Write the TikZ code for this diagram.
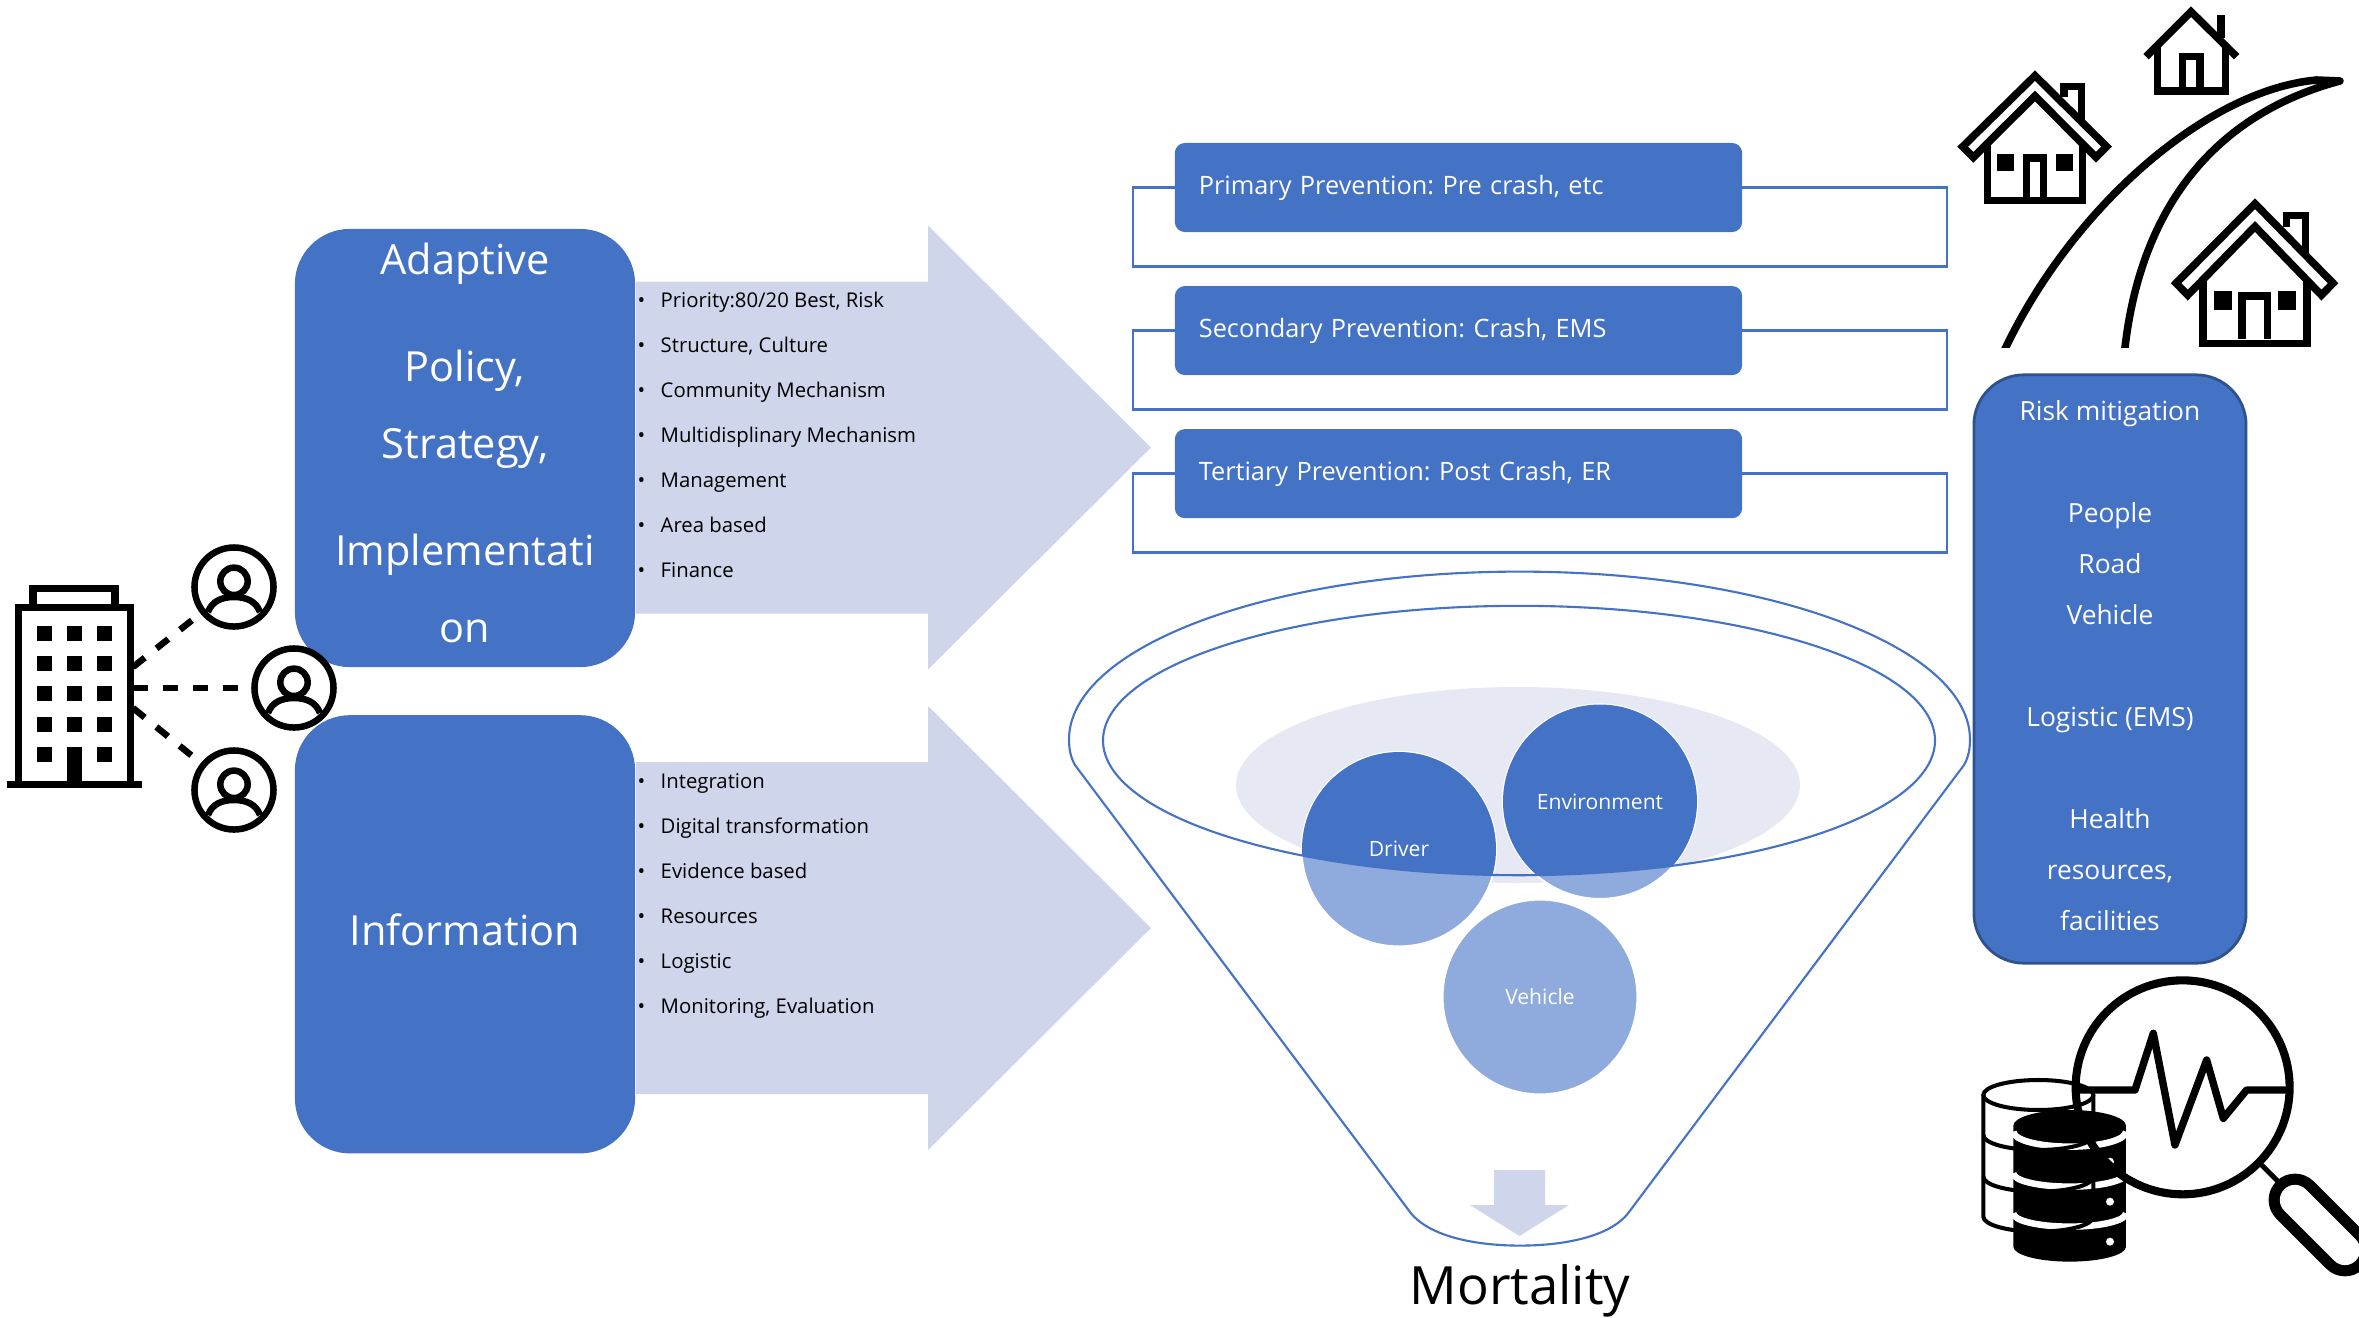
\documentclass[tikz,border=0pt]{standalone}
\usepackage{fontspec}
\setmainfont{Open Sans}
\frenchspacing
\usetikzlibrary{positioning}
\definecolor{mblue}{HTML}{4472C4}
\definecolor{mdark}{HTML}{2F528F}
\definecolor{mmid}{HTML}{8FAADC}
\definecolor{mpale}{HTML}{CFD5EA}
\definecolor{mfaint}{HTML}{E6E9F4}
\tikzset{
  sidebox/.style={fill=mblue,rounded corners=0.55cm,minimum width=3.4cm,minimum height=4.38cm,
    inner sep=0pt,outer sep=0pt},
  sidetext/.style={inner sep=0pt,align=center,text=white},
  prevbox/.style={fill=mblue,rounded corners=0.1cm,minimum height=0.89cm,text width=5.19cm,
    inner xsep=0.24cm,inner ysep=0pt,outer sep=0pt,align=left,text=white,
    font=\fontsize{7.2}{9}\selectfont},
  prevline/.style={draw=mblue,line width=0.7pt},
  listbox/.style={inner sep=0pt,align=left,font=\fontsize{5.78}{12.8}\selectfont},
  blob/.style={circle,minimum size=1.945cm,inner sep=0pt,fill=mmid,draw=white,line width=0.5pt},
  bloblabel/.style={inner sep=0pt,text=white,font=\fontsize{6}{8}\selectfont},
  funnelline/.style={draw=mblue,line width=0.6pt},
  usercircle/.style={circle,draw=black,fill=white,line width=1.85pt,minimum size=0.79cm,inner sep=0pt},
  dashlink/.style={line width=1.85pt,dash pattern=on 4.27pt off 4.27pt},
  icon/.style={line width=2.15pt,draw=black},
}
\newcommand{\Bullet}[1]{\makebox[0.23cm][l]{•}#1}
\newcommand{\WideArrow}[1]{
  \begin{scope}[shift={(0,#1)}]
  \fill[mpale] (636,-166) -- (928,-166) -- (928,-222) -- (1151,0) -- (928,222) -- (928,166) -- (636,166) -- cycle;
  \end{scope}
}
\newcommand{\PrevBracket}[1]{
  \draw[prevline] (prev-#1.west) -- ++(-42,0) -- ++(0,79) -- ++(814,0) -- ++(0,-79) -- (prev-#1.east);
}
\newcommand{\UserIcon}[3]{
  \node[usercircle] (user-#1) at (#2,#3) {};
  \begin{scope}[shift={(#2,#3)}]
  \draw[line width=1.85pt] (0,-5.7) circle (13.7);
  \draw[line width=1.85pt] (-26,25) .. controls (-22,14) and (-12,10) .. (0,10)
    .. controls (12,10) and (22,14) .. (26,25);
  \end{scope}
}
\newcommand{\HouseIcon}[5]{
  \begin{scope}[shift={(#1,#2)},xscale=#3,yscale=#4]
  \draw[icon] (87,80) -- (87,49) -- (139,49) -- (139,150);
  \draw[icon] (0,17) -- (215,230) -- (183,262) -- (0,78) -- (-185,262) -- (-217,230) -- cycle;
  \draw[icon] (-143,220) -- (-143,391) -- (143,391) -- (143,220);
  \draw[icon] (-#5,380) -- (-#5,264) -- (#5,264) -- (#5,380);
  \fill (-114,252) rectangle (-64,303);
  \fill (63,252) rectangle (114,303);
  \end{scope}
}
\begin{document}
\begin{tikzpicture}[x=0.01cm,y=-0.01cm]
  \clip (0,0) rectangle (2359,1317);
  \WideArrow{447.5}
  \WideArrow{928}
  \node[sidebox] (policy) at (465,448) {};
  \node[sidebox,below=0.48cm of policy] (info) {};
  \node[sidetext,font=\fontsize{11.8}{21.9}\selectfont] (policy-text) at ([yshift=0.05cm]policy)
    {Adaptive\\[8.5pt]Policy,\\Strategy,\\[8.5pt]Implementati\\on};
  \node[sidetext,font=\fontsize{11.8}{16}\selectfont] (info-text) at ([yshift=0.045cm]info) {Information};
  \node[listbox,anchor=west] (list-policy) at (637,435)
    {\Bullet{Priority:80/20 Best, Risk}\\\Bullet{Structure, Culture}\\\Bullet{Community Mechanism}\\
     \Bullet{Multidisplinary Mechanism}\\\Bullet{Management}\\\Bullet{Area based}\\\Bullet{Finance}};
  \node[listbox,anchor=west] (list-info) at (637,896)
    {\Bullet{Integration}\\\Bullet{Digital transformation}\\\Bullet{Evidence based}\\
     \Bullet{Resources}\\\Bullet{Logistic}\\\Bullet{Monitoring, Evaluation}};
  \node[prevbox] (prev-a) at (1458.5,187.5) {Primary Prevention: Pre crash, etc};
  \node[prevbox,below=0.54cm of prev-a] (prev-b) {Secondary Prevention: Crash, EMS};
  \node[prevbox,below=0.54cm of prev-b] (prev-c) {Tertiary Prevention: Post Crash, ER};
  \PrevBracket{a}
  \PrevBracket{b}
  \PrevBracket{c}
  \node[fill=mblue,draw=mdark,line width=0.8pt,rounded corners=0.5cm,minimum width=2.72cm,minimum height=5.88cm,
    inner sep=0pt] (risk) at (2110,669) {};
  \node[sidetext,font=\fontsize{7.5}{14.5}\selectfont] (risk-text) at ([yshift=0.03cm]risk)
    {Risk mitigation\\[14.5pt]People\\Road\\Vehicle\\[14.5pt]Logistic (EMS)\\[14.5pt]Health\\resources,\\facilities};
  \fill[mfaint] (1518,785) ellipse (282 and 98);
  \node[blob] (driver) at (1399,849) {};
  \node[blob] (environment) at (1600,801.5) {};
  \node[blob] (vehicle) at (1540,997) {};
  \begin{scope}
  \clip (1519,740.5) ellipse (416 and 134.7);
  \fill[mblue] (driver.center) circle (97);
  \fill[mblue] (environment.center) circle (97);
  \end{scope}
  \draw[funnelline] (1519,740.5) ellipse (416 and 134.7);
  \draw[funnelline] (1075,765) .. controls (1071,758) and (1069,750) .. (1069,739.6)
    arc[start angle=180,end angle=360,x radius=450.5,y radius=168]
    .. controls (1970,750) and (1968,758) .. (1964,765) -- (1629,1212)
    .. controls (1610,1238) and (1560,1245.6) .. (1520,1245.6)
    .. controls (1480,1245.6) and (1430,1238) .. (1410,1212) -- cycle;
  \node[bloblabel] (driver-label) at (driver) {Driver};
  \node[bloblabel] (environment-label) at (environment) {Environment};
  \node[bloblabel] (vehicle-label) at (vehicle) {Vehicle};
  \fill[mpale] (1494,1170) -- (1545,1170) -- (1545,1205) -- (1569,1205) -- (1519.5,1236) -- (1470,1205) -- (1494,1205) -- cycle;
  \node[inner sep=0pt,anchor=base,font=\fontsize{15}{18}\selectfont] (mortality) at (1520,1304) {Mortality};
  % tower and users
  \coordinate (tower-a) at (133,667);
  \coordinate (tower-b) at (133,688);
  \coordinate (tower-c) at (133,708);
  \draw[line width=2.1pt] (33,604) -- (33,588.5) -- (115,588.5) -- (115,604);
  \node[draw=black,line width=2.1pt,minimum width=1.12cm,minimum height=1.77cm,inner sep=0pt] (tower) at (74.4,696) {};
  \fill (7,781) rectangle (142,788);
  \foreach \rowy in {626,656,686,717,747}
    \foreach \colx in {37,67,97}
      \fill (\colx,\rowy) rectangle ++(15,15);
  \fill (67,747) rectangle (82,781);
  \UserIcon{a}{234}{587}
  \UserIcon{b}{294}{688}
  \UserIcon{c}{234}{790}
  \draw[dashlink] (tower-a) -- (user-a);
  \draw[dashlink] (tower-b) -- (user-b);
  \draw[dashlink] (tower-c) -- (user-c);
  % houses and road
  \begin{scope}[shift={(1940,0)},scale=0.3333]
  \HouseIcon{285}{210}{1}{1}{26}
  \HouseIcon{945}{592}{1.09}{1.12}{35}
  \draw[icon] (618,170) -- (753,35) -- (890,170);
  \draw[icon] (652,140) -- (652,273) -- (856,273) -- (856,140);
  \draw[icon] (728,262) -- (728,170) -- (780,170) -- (780,262);
  \draw[icon] (843,45) -- (843,115);
  \begin{scope}
  \clip (0,0) rectangle (1257,1043);
  \draw[icon,line join=round] (187,1063) -- (197,1043) .. controls (400,620) and (800,270) .. (1130,240) -- (1200,243)
    .. controls (800,350) and (600,650) .. (555,1043) -- (552,1063);
  \end{scope}
  \end{scope}
  % database and lens
  \begin{scope}[shift={(1960,960)},scale=0.3333]
  \fill (160,497) -- (160,860) arc[start angle=180,end angle=0,x radius=169,y radius=45] -- (498,497)
    arc[start angle=0,end angle=-180,x radius=169,y radius=47];
  \draw[white,line width=1.85pt] (160,515) arc[start angle=180,end angle=0,x radius=169,y radius=45];
  \draw[white,line width=1.85pt] (160,640) arc[start angle=180,end angle=0,x radius=169,y radius=40];
  \draw[white,line width=1.85pt] (160,760) arc[start angle=180,end angle=0,x radius=169,y radius=40];
  \foreach \doty in {605,725,845}
    \fill[white] (450,\doty) circle (12);
  \draw[line width=1.15pt] (235,405) ellipse (165 and 45);
  \draw[line width=1.15pt] (70,405) -- (70,770) arc[start angle=180,end angle=0,x radius=165,y radius=45] -- (400,405);
  \draw[line width=1.15pt] (70,525) arc[start angle=180,end angle=0,x radius=165,y radius=45];
  \draw[line width=1.15pt] (70,650) arc[start angle=180,end angle=0,x radius=165,y radius=45];
  \draw[line width=2.3pt] (668,382) circle (321);
  \draw[line width=2.1pt,line join=round,line cap=round] (360,390) -- (525,390) -- (580,220) -- (645,555) -- (740,300)
    -- (790,475) -- (860,390) -- (975,390);
  \draw[line width=1.4pt] (905,615) -- (960,670);
  \draw[line cap=round,line width=15pt] (1005,720) -- (1155,870);
  \draw[white,line cap=round,line width=8.6pt] (1005,720) -- (1155,870);
  \end{scope}
\end{tikzpicture}
\end{document}
